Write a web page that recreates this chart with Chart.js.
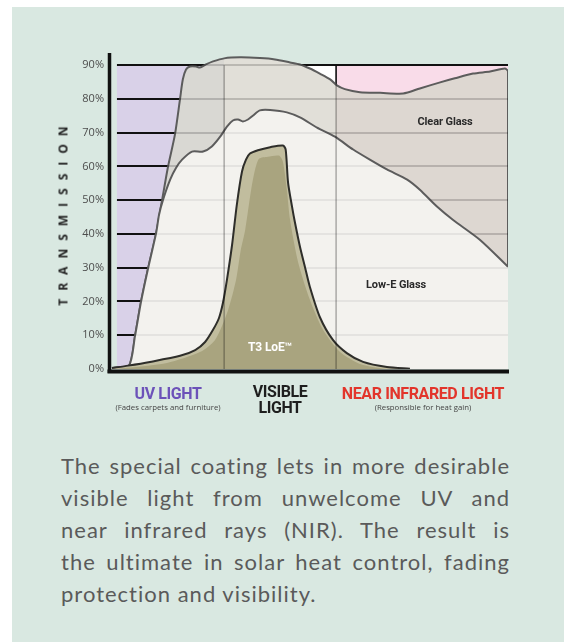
<!DOCTYPE html>
<html>
<head>
<meta charset="utf-8">
<script src="https://cdn.jsdelivr.net/npm/chart.js@4.4.0/dist/chart.umd.min.js"></script>
<style>
body{margin:0;width:564px;height:642px;background:#fff;position:relative;overflow:hidden;font-family:"Open Sans",sans-serif;}
#card{position:absolute;left:12px;top:7px;width:552px;height:635px;background:#d9e8e1;}
#chart{position:absolute;left:0;top:0;}
.lbl{position:absolute;white-space:nowrap;transform:translate(-50%,-50%);line-height:1;}
.in{font-family:Roboto,sans-serif;font-weight:bold;font-size:11px;color:#2a2a2a;letter-spacing:-0.1px;}
.big{font-family:Roboto,sans-serif;font-weight:bold;font-size:16px;letter-spacing:-0.4px;text-align:center;}
.sub{font-size:7.8px;color:#444;}
#ytitle{position:absolute;left:63px;top:216px;transform:translate(-50%,-50%) rotate(-90deg);font-weight:bold;font-size:12px;letter-spacing:8px;padding-left:8px;color:#222;white-space:nowrap;}
#para{position:absolute;left:61px;top:450px;width:449px;font-family:Lato,sans-serif;font-size:22px;line-height:32px;color:#5a5a5a;letter-spacing:1px;}
#para .j{text-align:justify;text-align-last:justify;}
</style>
</head>
<body>
<div id="card"></div>
<canvas id="chart" width="564" height="400"></canvas>
<div id="ytitle">TRANSMISSION</div>
<div class="lbl in" style="left:445px;top:121px">Clear Glass</div>
<div class="lbl in" style="left:396px;top:284px">Low-E Glass</div>
<div class="lbl in" style="left:270px;top:347px;color:#fff;font-size:12px">T3 LoE™</div>
<div class="lbl big" style="left:168px;top:394px;color:#6c52b9">UV LIGHT</div>
<div class="lbl sub" style="left:168px;top:408px">(Fades carpets and furniture)</div>
<div class="lbl big" style="left:280px;top:400px;color:#1e1e1e;line-height:16px">VISIBLE<br>LIGHT</div>
<div class="lbl big" style="left:423px;top:394px;color:#e2352b">NEAR INFRARED LIGHT</div>
<div class="lbl sub" style="left:423px;top:408px">(Responsible for heat gain)</div>
<div id="para">
  <div class="j">The special coating lets in more desirable</div>
  <div class="j">visible light from unwelcome UV and</div>
  <div class="j">near infrared rays (NIR). The result is</div>
  <div class="j">the ultimate in solar heat control, fading</div>
  <div>protection and visibility.</div>
</div>
<script>
// spectrum runs 0..100 across the plot, transmission in %
const yTicks = [0,10,20,30,40,50,60,70,80,90];
const bandEdges = [1.5, 28.5, 56.7, 100];   // UV | visible | near infrared

const clearGlassX = [0.25,4.5,6.05,7.56,9.32,11.3,12.85,14.36,16.1,17.4,18.1,18.9,19.9,21.4,22.4,23.9,25.7,28.5,32.5,37.5,41.3,45.1,47.6,50.1,52.6,55.2,56.9,58.9,62.7,67.8,73.6,77.8,82.9,86.6,91.2,95.5,99.2,100,100];
const clearGlassY = [0.3,0.9,9.8,19.9,29.7,39.8,49.9,59.9,69.4,80.1,85.8,88.7,89.6,89.6,89.3,90.2,91.1,92.0,92.3,92.1,91.7,90.8,90.2,89.0,87.5,85.8,84.0,82.9,82.0,81.8,81.6,83.1,84.9,86.1,87.5,88.1,89.0,88.1,0];

const lowEX = [0.25,4.5,6.05,7.56,9.32,11.4,12.1,13.1,14.9,16.4,17.9,20.4,23.2,25.4,27.5,29.2,30.7,32.0,33.2,34.5,35.8,37.5,40.1,44.3,47.6,51.9,56.4,61.0,65.2,69.5,74.6,77.8,82.1,86.1,92.9,100];
const lowEY = [0.3,0.9,9.8,19.9,29.7,40.5,45.7,50.1,56.1,59.6,62.0,64.4,64.4,65.9,68.8,71.8,73.6,73.9,73.3,73.9,75.1,76.6,76.7,76.0,74.5,71.5,68.8,65.0,62.0,59.1,56.1,53.1,48.1,44.2,38.3,30.3];

const t3X = [0.25,4.3,9.8,17.4,21.2,23.7,25.7,27.2,28.2,29.2,30.5,31.7,33.0,34.0,35.0,37.0,40.1,43.3,44.0,44.6,45.6,46.3,47.6,48.9,50.1,52.6,55.9,59.4,63.5,69.5,75.3];
const t3Y = [0.3,1.0,2.1,3.9,5.6,8.0,11.6,15.1,19.6,26.4,36.8,48.7,58.5,62.0,63.8,64.8,65.7,66.2,65.0,55.2,48.1,43.6,36.2,30.0,24.3,15.4,8.6,4.7,2.1,0.6,0.1];

// darker core of the T3 LoE curve
const t3CoreX = [1.0,14.1,22.4,26.2,29.5,31.5,32.7,33.8,35.3,36.3,37.3,39.5,42.3,43.3,44.3,45.1,47.1,50.1,53.4,57.7,62.7,69.0];
const t3CoreY = [0,1.8,5.0,8.6,17.5,26.4,35.3,41.2,53.1,59.1,62.3,62.9,63.2,61.4,53.1,44.2,31.8,20.5,11.6,5.0,1.5,0];

const bandColors = ['#d9d1e8', '#ffffff', '#f9dce9'];
const clearFills = ['#d9d8d3', '#e1dfd8', '#ddd7d1'];

function pts(xs, ys){ return xs.map((x,i)=>({x, y: ys[i]})); }

function clearGradient(c){
  const chart = c.chart;
  const area = chart.chartArea;
  if(!area) return clearFills[1];
  const xs = chart.scales.x;
  const g = chart.ctx.createLinearGradient(area.left, 0, area.right, 0);
  const w = area.right - area.left;
  g.addColorStop(0, clearFills[0]);
  for(let i=1;i<bandEdges.length-1;i++){
    const f = (xs.getPixelForValue(bandEdges[i]) - area.left) / w;
    g.addColorStop(f, clearFills[i-1]);
    g.addColorStop(f, clearFills[i]);
  }
  g.addColorStop(1, clearFills[clearFills.length-1]);
  return g;
}

function gridLines(chart, color){
  const {ctx, scales:{x,y}} = chart;
  ctx.save();
  ctx.strokeStyle = color; ctx.lineWidth = 1.5;
  yTicks.filter(v=>v>0).forEach(v=>{
    const py = Math.round(y.getPixelForValue(v));
    ctx.beginPath(); ctx.moveTo(x.getPixelForValue(bandEdges[0]), py); ctx.lineTo(x.getPixelForValue(100), py); ctx.stroke();
  });
  ctx.restore();
}

const bands = {
  id: 'bands',
  beforeDatasetsDraw(chart){
    const {ctx, scales:{x,y}} = chart;
    const top = y.getPixelForValue(90), bot = y.getPixelForValue(0);
    ctx.save();
    for(let i=0;i<bandEdges.length-1;i++){
      const l = x.getPixelForValue(bandEdges[i]), r = x.getPixelForValue(bandEdges[i+1]);
      ctx.fillStyle = bandColors[i];
      ctx.fillRect(l, top, r-l, bot-top);
    }
    ctx.strokeStyle = '#161616'; ctx.lineWidth = 2;
    yTicks.filter(v=>v>0).forEach(v=>{
      const py = Math.round(y.getPixelForValue(v));
      ctx.beginPath(); ctx.moveTo(x.getPixelForValue(bandEdges[0]), py); ctx.lineTo(x.getPixelForValue(100), py); ctx.stroke();
    });
    ctx.lineWidth = 1.5;
    bandEdges.slice(1,-1).forEach(b=>{
      const px = x.getPixelForValue(b);
      ctx.beginPath(); ctx.moveTo(px, top); ctx.lineTo(px, bot); ctx.stroke();
    });
    ctx.restore();
  },
  afterDatasetDraw(chart, args){
    if(args.index === 3) gridLines(chart, 'rgba(0,0,0,0.16)');
    if(args.index === 2) gridLines(chart, 'rgba(0,0,0,0.08)');
  },
  afterDatasetsDraw(chart){
    const {ctx, chartArea:a, scales:{x,y}} = chart;
    ctx.save();
    ctx.strokeStyle = 'rgba(0,0,0,0.3)'; ctx.lineWidth = 1.5;
    bandEdges.slice(1,-1).forEach(b=>{
      const px = x.getPixelForValue(b);
      ctx.beginPath(); ctx.moveTo(px, y.getPixelForValue(90)); ctx.lineTo(px, y.getPixelForValue(0)); ctx.stroke();
    });
    ctx.strokeStyle = '#111';
    ctx.lineWidth = 3.5;
    ctx.beginPath(); ctx.moveTo(a.left-1.5, a.top-2); ctx.lineTo(a.left-1.5, a.bottom+4); ctx.stroke();
    ctx.lineWidth = 4;
    ctx.beginPath(); ctx.moveTo(a.left-3.5, a.bottom+2.5); ctx.lineTo(a.right+1, a.bottom+2.5); ctx.stroke();
    ctx.restore();
  }
};

new Chart(document.getElementById('chart'), {
  type: 'line',
  data: {
    datasets: [
      { label:'T3 core', data: pts(t3CoreX, t3CoreY), fill:'origin', backgroundColor:'#a9a47f', borderWidth:0, borderColor:'rgba(0,0,0,0)' },
      { label:'T3 LoE', data: pts(t3X, t3Y), fill:'origin', backgroundColor:'#c1bd9e', borderColor:'#2e2e2a', borderWidth:2 },
      { label:'Low-E Glass', data: pts(lowEX, lowEY), fill:'origin', backgroundColor:'#f3f2ee', borderColor:'#5c5c5c', borderWidth:2 },
      { label:'Clear Glass', data: pts(clearGlassX, clearGlassY), fill:'origin', backgroundColor: clearGradient, borderColor:'#5c5c5c', borderWidth:2 }
    ]
  },
  options: {
    responsive:false, animation:false, devicePixelRatio:1,
    layout:{ padding:{ left:50, right:56, top:55, bottom:31 } },
    elements:{ point:{ radius:0 }, line:{ tension:0.25 } },
    plugins:{ legend:{ display:false }, tooltip:{ enabled:false } },
    scales:{
      x:{ type:'linear', min:0, max:100, display:false },
      y:{
        min:0, max:93,
        grid:{ display:false, drawTicks:false }, border:{ display:false },
        afterBuildTicks: s => { s.ticks = yTicks.map(v=>({ value:v })); },
        afterFit: s => { s.width = 61; },
        ticks:{ padding:7, color:'#4d4d4d', font:{ size:11, family:'Open Sans' }, callback: v => v + '%' }
      }
    }
  },
  plugins:[bands]
});
</script>
</body>
</html>
